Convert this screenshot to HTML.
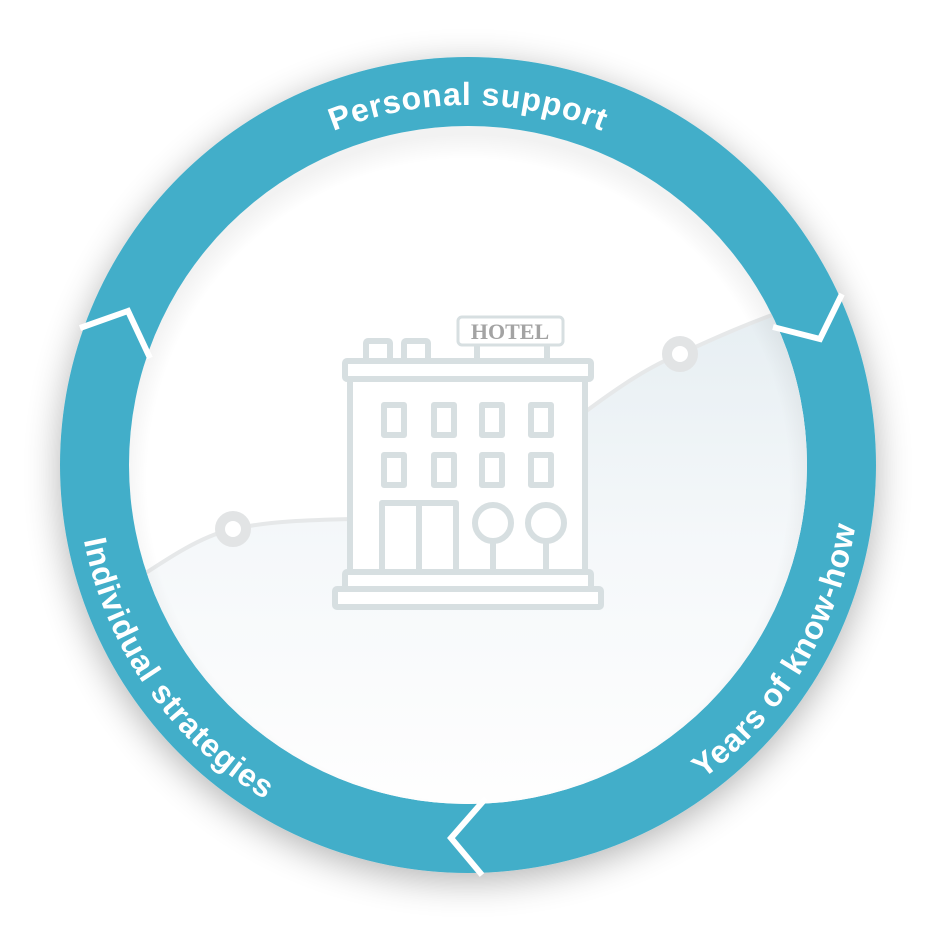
<!DOCTYPE html>
<html><head><meta charset="utf-8"><style>
html,body{margin:0;padding:0;background:#fff;}
svg{display:block;}
</style></head><body>
<svg width="936" height="934" viewBox="0 0 936 934" xmlns="http://www.w3.org/2000/svg">
<defs>
  <filter id="sh" x="-20%" y="-20%" width="140%" height="140%">
    <feGaussianBlur in="SourceAlpha" stdDeviation="18"/>
    <feOffset dx="0" dy="8" result="b"/>
    <feComponentTransfer><feFuncA type="linear" slope="0.3"/></feComponentTransfer>
    <feMerge><feMergeNode/><feMergeNode in="SourceGraphic"/></feMerge>
  </filter>
  <radialGradient id="inner" cx="468" cy="480" r="345" gradientUnits="userSpaceOnUse">
    <stop offset="0.93" stop-color="#000" stop-opacity="0"/>
    <stop offset="1" stop-color="#000" stop-opacity="0.05"/>
  </radialGradient>
  <linearGradient id="fillg" x1="0" y1="300" x2="0" y2="800" gradientUnits="userSpaceOnUse">
    <stop offset="0" stop-color="#e6eef2"/>
    <stop offset="0.5" stop-color="#f5f8fa"/>
    <stop offset="1" stop-color="#fefefe"/>
  </linearGradient>
  <clipPath id="ic"><circle cx="468" cy="465" r="339"/></clipPath>
  <path id="pTop" d="M 108 465 A 360 360 0 0 1 828 465"/>
  <path id="pLeft" d="M 113 299 A 392 392 0 0 0 502 855"/>
  <path id="pRight" d="M 461 857 A 392 392 0 0 0 811 275"/>
</defs>

<circle cx="468" cy="465" r="408" fill="#42aec9" filter="url(#sh)"/>
<circle cx="468" cy="465" r="339" fill="#ffffff"/>

<g clip-path="url(#ic)">
  <path d="M 120 590 C 165 560, 200 536, 233 529 C 270 521, 310 520, 352 519 L 585 412 C 620 386, 650 366, 680 354 C 715 338, 750 322, 800 305 L 820 305 L 820 820 L 110 820 Z" fill="url(#fillg)"/>
  <path d="M 120 590 C 165 560, 200 536, 233 529 C 270 521, 310 520, 352 519" fill="none" stroke="#e6e8e9" stroke-width="4"/>
  <path d="M 585 412 C 620 386, 650 366, 680 354 C 715 338, 750 322, 800 305" fill="none" stroke="#e6e8e9" stroke-width="4"/>
  <circle cx="233" cy="529" r="13" fill="#fff" stroke="#e2e4e5" stroke-width="10"/>
  <circle cx="680" cy="354" r="13" fill="#fff" stroke="#e2e4e5" stroke-width="10"/>
  <circle cx="468" cy="465" r="339" fill="url(#inner)"/>
</g>

<!-- building -->
<g fill="#fff" stroke="#d7dfe1" stroke-width="6" stroke-linejoin="round">
  <rect x="366" y="341" width="24" height="20" rx="2"/>
  <rect x="404" y="341" width="24" height="20" rx="2"/>
  <line x1="477" y1="342" x2="477" y2="362"/>
  <line x1="547" y1="342" x2="547" y2="362"/>
  <rect x="458" y="317" width="105" height="28" rx="4" stroke-width="3"/>
  <rect x="350" y="379" width="235" height="193"/>
  <rect x="345" y="361" width="246" height="18" rx="2"/>
  <rect x="384" y="405" width="20" height="30"/>
  <rect x="434" y="405" width="20" height="30"/>
  <rect x="482" y="405" width="20" height="30"/>
  <rect x="531" y="405" width="20" height="30"/>
  <rect x="384" y="455" width="20" height="30"/>
  <rect x="434" y="455" width="20" height="30"/>
  <rect x="482" y="455" width="20" height="30"/>
  <rect x="531" y="455" width="20" height="30"/>
  <rect x="382" y="503" width="74" height="69"/>
  <line x1="419" y1="503" x2="419" y2="572"/>
  <line x1="493" y1="540" x2="493" y2="572"/>
  <line x1="546" y1="540" x2="546" y2="572"/>
  <circle cx="493" cy="523" r="18"/>
  <circle cx="546" cy="523" r="18"/>
  <rect x="345" y="572" width="246" height="17" rx="2"/>
  <rect x="335" y="589" width="266" height="18" rx="2"/>
</g>
<text x="510" y="339" text-anchor="middle" font-family="Liberation Serif, serif" font-weight="bold" font-size="22" fill="#a3a3a3">HOTEL</text>

<!-- dividers -->
<g fill="none" stroke="#fff" stroke-width="6" stroke-linejoin="miter">
  <polyline points="80,328 128,311 150,358"/>
  <polyline points="842,294 820,339 773,327"/>
  <polyline points="486,798 451,838 482,875"/>
</g>

<g font-family="Liberation Sans, sans-serif" font-size="32" font-weight="bold" fill="#fff" letter-spacing="0.8" text-anchor="middle">
  <text><textPath href="#pTop" startOffset="50%">Personal support</textPath></text>
  <text><textPath href="#pLeft" startOffset="50%">Individual strategies</textPath></text>
  <text><textPath href="#pRight" startOffset="50%">Years of know-how</textPath></text>
</g>
</svg>
</body></html>
